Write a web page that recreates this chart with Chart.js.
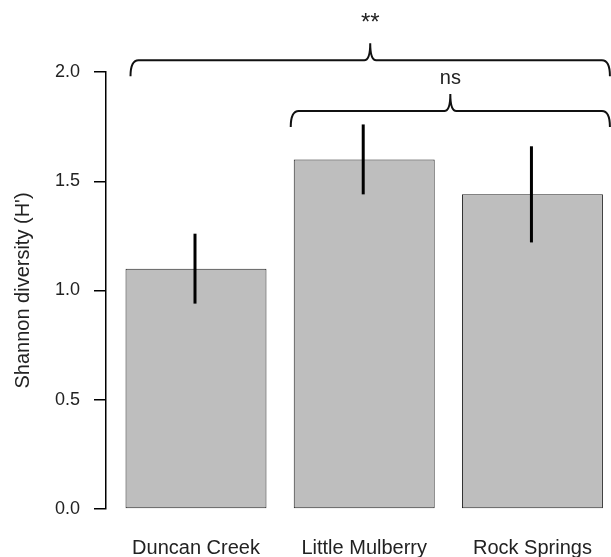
<!DOCTYPE html>
<html>
<head>
<meta charset="utf-8">
<script src="https://cdn.jsdelivr.net/npm/chart.js@4"></script>
<style>
  html, body { margin: 0; padding: 0; background: #ffffff; }
  #wrap { width: 611px; height: 557px; }
</style>
</head>
<body>
<div id="wrap"><canvas id="c" width="611" height="557"></canvas></div>
<script>
// ---- data ----
const categories = ['Duncan Creek', 'Little Mulberry', 'Rock Springs'];
const means = [1.10, 1.60, 1.44];
const upper = [1.26, 1.76, 1.66];
const lower = [0.94, 1.44, 1.22];
const yTickValues = [0.0, 0.5, 1.0, 1.5, 2.0];
const compLabels = ['**', 'ns'];
const compFrom = [0, 1];
const compTo = [2, 2];
const compLevel = [2.054, 1.821];

const errorBarPlugin = {
  id: 'errorBars',
  afterDatasetsDraw(chart) {
    const ctx = chart.ctx;
    const xs = chart.scales.x, ys = chart.scales.y;
    ctx.save();
    ctx.strokeStyle = '#000';
    ctx.lineWidth = 3;
    for (let i = 0; i < categories.length; i++) {
      const x = xs.getPixelForValue(i) - 1;
      ctx.beginPath();
      ctx.moveTo(x, ys.getPixelForValue(lower[i]));
      ctx.lineTo(x, ys.getPixelForValue(upper[i]));
      ctx.stroke();
    }
    ctx.restore();
  }
};

const bracketPlugin = {
  id: 'brackets',
  afterDraw(chart) {
    const ctx = chart.ctx;
    const ys = chart.scales.y;
    const bars = chart.getDatasetMeta(0).data;
    ctx.save();
    ctx.strokeStyle = '#111';
    ctx.lineWidth = 2;
    ctx.fillStyle = '#222';
    ctx.textAlign = 'center';
    ctx.textBaseline = 'middle';
    for (let k = 0; k < compLabels.length; k++) {
      const b0 = bars[compFrom[k]], b1 = bars[compTo[k]];
      const xL = b0.x - b0.width / 2 + (k === 0 ? 5 : -3);
      const xR = Math.min(b1.x + b1.width / 2 + 7, chart.width - 1);
      const xc = (xL + xR) / 2;
      const yl = ys.getPixelForValue(compLevel[k]);
      const yEnd = yl + 16;
      const yPeak = yl - 17;
      const r = 8;
      ctx.beginPath();
      ctx.moveTo(xL, yEnd);
      ctx.quadraticCurveTo(xL, yl, xL + r, yl);
      ctx.lineTo(xc - 6, yl);
      ctx.quadraticCurveTo(xc, yl, xc, yPeak);
      ctx.quadraticCurveTo(xc, yl, xc + 6, yl);
      ctx.lineTo(xR - r, yl);
      ctx.quadraticCurveTo(xR, yl, xR, yEnd);
      ctx.stroke();
      ctx.font = (k === 0 ? '24px' : '20px') + ' "Liberation Sans", Arial, sans-serif';
      ctx.fillText(compLabels[k], xc, k === 0 ? yl - 37 : yl - 33);
    }
    ctx.restore();
  }
};

new Chart(document.getElementById('c'), {
  type: 'bar',
  data: {
    datasets: [{
      data: categories.map((c, i) => ({ x: i, y: means[i] })),
      backgroundColor: '#bebebe',
      borderColor: '#222222',
      borderWidth: 1,
      borderSkipped: false,
      categoryPercentage: 1.0,
      barPercentage: 0.838
    }]
  },
  options: {
    responsive: false,
    animation: false,
    devicePixelRatio: 1,
    layout: { padding: { top: 72, right: 0, left: 0, bottom: 0 } },
    plugins: { legend: { display: false }, tooltip: { enabled: false } },
    scales: {
      x: {
        type: 'linear',
        offset: false,
        min: -0.535,
        max: 2.467,
        grid: { display: false },
        border: { display: false },
        afterBuildTicks(scale) { scale.ticks = categories.map((c, i) => ({ value: i })); },
        afterFit(scale) { scale.height = 48; },
        ticks: {
          autoSkip: false,
          maxRotation: 0,
          padding: 19,
          color: '#222',
          font: { family: '"Liberation Sans", Arial, sans-serif', size: 20 },
          callback: (v) => categories[v] !== undefined ? categories[v] : ''
        }
      },
      y: {
        min: 0,
        max: 2,
        afterBuildTicks(scale) { scale.ticks = yTickValues.map(v => ({ value: v })); },
        afterFit(scale) { scale.width = 106; },
        grid: { drawOnChartArea: false, color: '#000', lineWidth: 1.5, tickLength: 12 },
        border: { display: true, color: '#000', width: 1.5 },
        ticks: {
          padding: 14,
          color: '#222',
          font: { family: '"Liberation Sans", Arial, sans-serif', size: 18 },
          callback: (v) => Number(v).toFixed(1)
        },
        title: {
          display: true,
          text: "Shannon diversity (H')",
          color: '#222',
          padding: { top: 11, bottom: 0 },
          font: { family: '"Liberation Sans", Arial, sans-serif', size: 20 }
        }
      }
    }
  },
  plugins: [errorBarPlugin, bracketPlugin]
});
</script>
</body>
</html>
